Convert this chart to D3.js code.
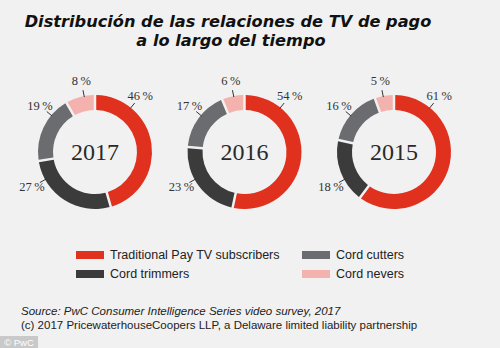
<!DOCTYPE html>
<html>
<head>
<meta charset="utf-8">
<script src="https://cdn.jsdelivr.net/npm/d3@7"></script>
<style>
  html, body { margin: 0; padding: 0; background: #f1f1f1; }
  svg { display: block; }
</style>
</head>
<body>
<svg id="chart" width="500" height="348"></svg>
<script>
// Pay TV relationship shares by year
const years = ["2017", "2016", "2015"];
const categories = ["Traditional Pay TV subscribers", "Cord trimmers", "Cord cutters", "Cord nevers"];
const traditional = [46, 54, 61];
const trimmers = [27, 23, 18];
const cutters = [19, 17, 16];
const nevers = [8, 6, 5];

const colors = ["#e0301e", "#3b3b3c", "#6b6c70", "#f3b2ad"];
// angle (degrees, clockwise from top) where each category's value label sits
const labelAngles = [39, 241, -50, -11];

const svg = d3.select("#chart");

// title
const title = svg.append("g")
  .attr("font-family", "DejaVu Sans")
  .attr("font-weight", "bold")
  .attr("font-style", "italic")
  .attr("font-size", 16.2)
  .attr("fill", "#111")
  .attr("text-anchor", "middle");
title.append("text").attr("x", 228).attr("y", 27).text("Distribución de las relaciones de TV de pago");
title.append("text").attr("x", 231).attr("y", 46).text("a lo largo del tiempo");

// donuts
const cx = d3.scalePoint().domain(years).range([95, 394]);
const cy = 152;
const rOuter = 57, rInner = 42;

const pie = d3.pie().sort(null).value(d => d.value).padAngle(0.035);
const arc = d3.arc().innerRadius(rInner).outerRadius(rOuter);

years.forEach((yr, i) => {
  const vals = [traditional[i], trimmers[i], cutters[i], nevers[i]];
  const data = vals.map((v, k) => ({ value: v, k }));
  const g = svg.append("g").attr("transform", `translate(${cx(yr)},${cy})`);
  const arcs = pie(data);

  g.selectAll("path.slice").data(arcs).join("path")
    .attr("class", "slice")
    .attr("d", arc)
    .attr("fill", d => colors[d.data.k]);

  g.append("text")
    .attr("text-anchor", "middle")
    .attr("y", 8)
    .attr("font-family", "Liberation Serif")
    .attr("font-size", 24)
    .attr("fill", "#2a2a2a")
    .text(yr);

  arcs.forEach(d => {
    const s = d.startAngle, e = d.endAngle;
    let a = labelAngles[d.data.k] * Math.PI / 180;
    if (a < s - 1e-6) a += 2 * Math.PI;
    // fall back to the slice middle if the preferred angle is outside the slice
    if (a < s || a > e) a = (s + e) / 2;
    const sx = Math.sin(a), sy = -Math.cos(a);
    g.append("line")
      .attr("x1", sx * (rOuter - 1)).attr("y1", sy * (rOuter - 1))
      .attr("x2", sx * (rOuter + 6)).attr("y2", sy * (rOuter + 6))
      .attr("stroke", "#333").attr("stroke-width", 1);
    g.append("text")
      .attr("x", sx * (rOuter + 15))
      .attr("y", sy * (rOuter + 15) + 4)
      .attr("text-anchor", "middle")
      .attr("font-family", "Liberation Serif")
      .attr("font-size", 12.5)
      .attr("fill", "#333")
      .text(d.data.value + "\u2009%");
  });
});

// legend: two columns, two rows
const legend = svg.append("g")
  .attr("font-family", "Liberation Sans")
  .attr("font-size", 12.5)
  .attr("fill", "#222");
const legCol = [76, 76, 302, 302];
const legRow = [251, 270, 251, 270];
categories.forEach((name, k) => {
  legend.append("rect")
    .attr("x", legCol[k]).attr("y", legRow[k])
    .attr("width", 28).attr("height", 8)
    .attr("fill", colors[k]);
  legend.append("text")
    .attr("x", legCol[k] + 34).attr("y", legRow[k] + 8)
    .text(name);
});

// source notes
const notes = svg.append("g")
  .attr("font-family", "Liberation Sans")
  .attr("font-size", 11.5)
  .attr("fill", "#222");
notes.append("text").attr("x", 21).attr("y", 315).attr("font-style", "italic")
  .text("Source: PwC Consumer Intelligence Series video survey, 2017");
notes.append("text").attr("x", 21).attr("y", 329)
  .text("(c) 2017 PricewaterhouseCoopers LLP, a Delaware limited liability partnership");

// credit badge
svg.append("rect").attr("x", 0).attr("y", 336).attr("width", 38).attr("height", 12).attr("fill", "#c9c9c9");
svg.append("text").attr("x", 19).attr("y", 345.5).attr("text-anchor", "middle")
  .attr("font-family", "Liberation Sans").attr("font-size", 9.5).attr("fill", "#fff")
  .text("© PwC");
</script>
</body>
</html>
